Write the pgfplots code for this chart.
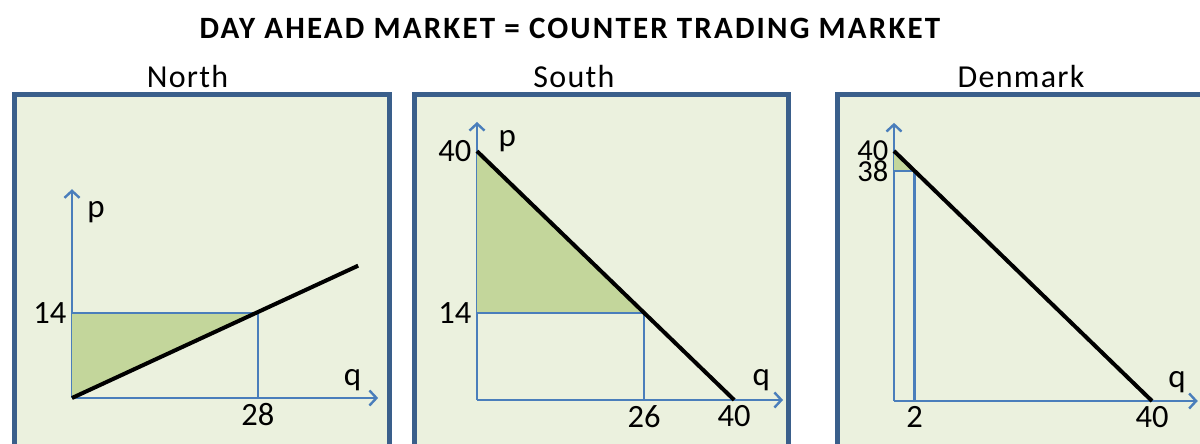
\documentclass[border=0pt]{standalone}
\usepackage{fontspec}
\setmainfont{Carlito}
\newfontfamily\spaced[LetterSpace=4]{Carlito}
\newfontfamily\titlefont[LetterSpace=7]{Carlito}
\usepackage{pgfplots}
\pgfplotsset{compat=1.18}
\usetikzlibrary{arrows.meta}
\definecolor{bggreen}{HTML}{EBF1DE}
\definecolor{fillgreen}{HTML}{C3D69B}
\definecolor{borderblue}{HTML}{3A5F8B}
\definecolor{axisblue}{HTML}{4A7EBB}
\pgfplotsset{
  panel/.style={
    scale only axis, anchor=south west,
    axis lines=left, xmin=0, ymin=0,
    axis line style={draw=axisblue, line width=2.4pt, -{Straight Barb[length=7pt,width=15pt,line width=2.4pt]}},
    tick style={draw=none},
    ticklabel style={font=\fontsize{32.5}{32.5}\selectfont, text=black},
    /pgf/number format/assume math mode=true,
    clip=false,
  },
  curve/.style={black, line width=4pt},
  guide/.style={axisblue, line width=2.4pt},
  area/.style={fill=fillgreen, draw=none},
}
\begin{document}
\begin{tikzpicture}[x=1pt,y=1pt]
\useasboundingbox (0,0) rectangle (1200,444);
\clip (0,0) rectangle (1200,444);
\coordinate (oN) at (72,46);
\coordinate (oS) at (477,44);
\coordinate (oD) at (894,43);
% panels
\draw[fill=bggreen, draw=borderblue, line width=5pt] (14.5,-20) rectangle (389,349);
\draw[fill=bggreen, draw=borderblue, line width=5pt] (414,-20) rectangle (788,349);
\draw[fill=bggreen, draw=borderblue, line width=5pt] (837,-20) rectangle (1230,349);
% titles
\node[anchor=base, font=\titlefont\bfseries\fontsize{31}{31}\selectfont] at (570,405) {DAY AHEAD MARKET = COUNTER TRADING MARKET};
\node[anchor=base, font=\spaced\fontsize{32}{32}\selectfont] at (187.5,356) {North};
\node[anchor=base, font=\spaced\fontsize{32}{32}\selectfont] at (574,356) {South};
\node[anchor=base, font=\spaced\fontsize{32}{32}\selectfont] at (1021,356) {Denmark};

% North
\begin{axis}[panel, at={(oN)}, x=6.64pt, y=6.07pt, xmax=46.1, ymax=34.4,
  xtick={28}, ytick={14}]
\addplot[area] coordinates {(0,0) (0,14) (28,14)} -- cycle;
\addplot[guide] coordinates {(0,14) (28,14) (28,0)};
\addplot[curve] coordinates {(0,0) (43.1,21.8)};
\node[anchor=base west, font=\fontsize{33}{33}\selectfont] at (axis cs:1.8,29.8) {p};
\node[anchor=base west, font=\fontsize{33}{33}\selectfont] at (axis cs:40.4,2.1) {q};
\end{axis}

% South
\begin{axis}[panel, at={(oS)}, x=6.43pt, y=6.22pt, xmax=47.6, ymax=44.7,
  xtick={26,40}, ytick={14,40}]
\addplot[area] coordinates {(0,40) (0,14) (26,14)} -- cycle;
\addplot[guide] coordinates {(0,14) (26,14) (26,0)};
\addplot[curve] coordinates {(0,40) (40,0)};
\node[anchor=base west, font=\fontsize{33}{33}\selectfont] at (axis cs:2.8,40.7) {p};
\node[anchor=base west, font=\fontsize{33}{33}\selectfont] at (axis cs:42.3,2.4) {q};
\end{axis}

% Denmark
\begin{axis}[panel, at={(oD)}, x=6.45pt, y=6.25pt, xmax=47.1, ymax=44.5,
  xtick={3.2,40}, xticklabels={2,40}, ytick={36.8,40}, yticklabels={38,40},
  yticklabel style={inner ysep=0pt, font=\fontsize{30.5}{30.5}\selectfont}]
\addplot[area] coordinates {(0,40) (0,36.8) (3.2,36.8)} -- cycle;
\addplot[guide] coordinates {(0,36.8) (3.2,36.8) (3.2,0)};
\addplot[curve] coordinates {(0,40) (40,0)};
\node[anchor=base west, font=\fontsize{33}{33}\selectfont] at (axis cs:42,2.2) {q};
\end{axis}
\end{tikzpicture}
\end{document}
